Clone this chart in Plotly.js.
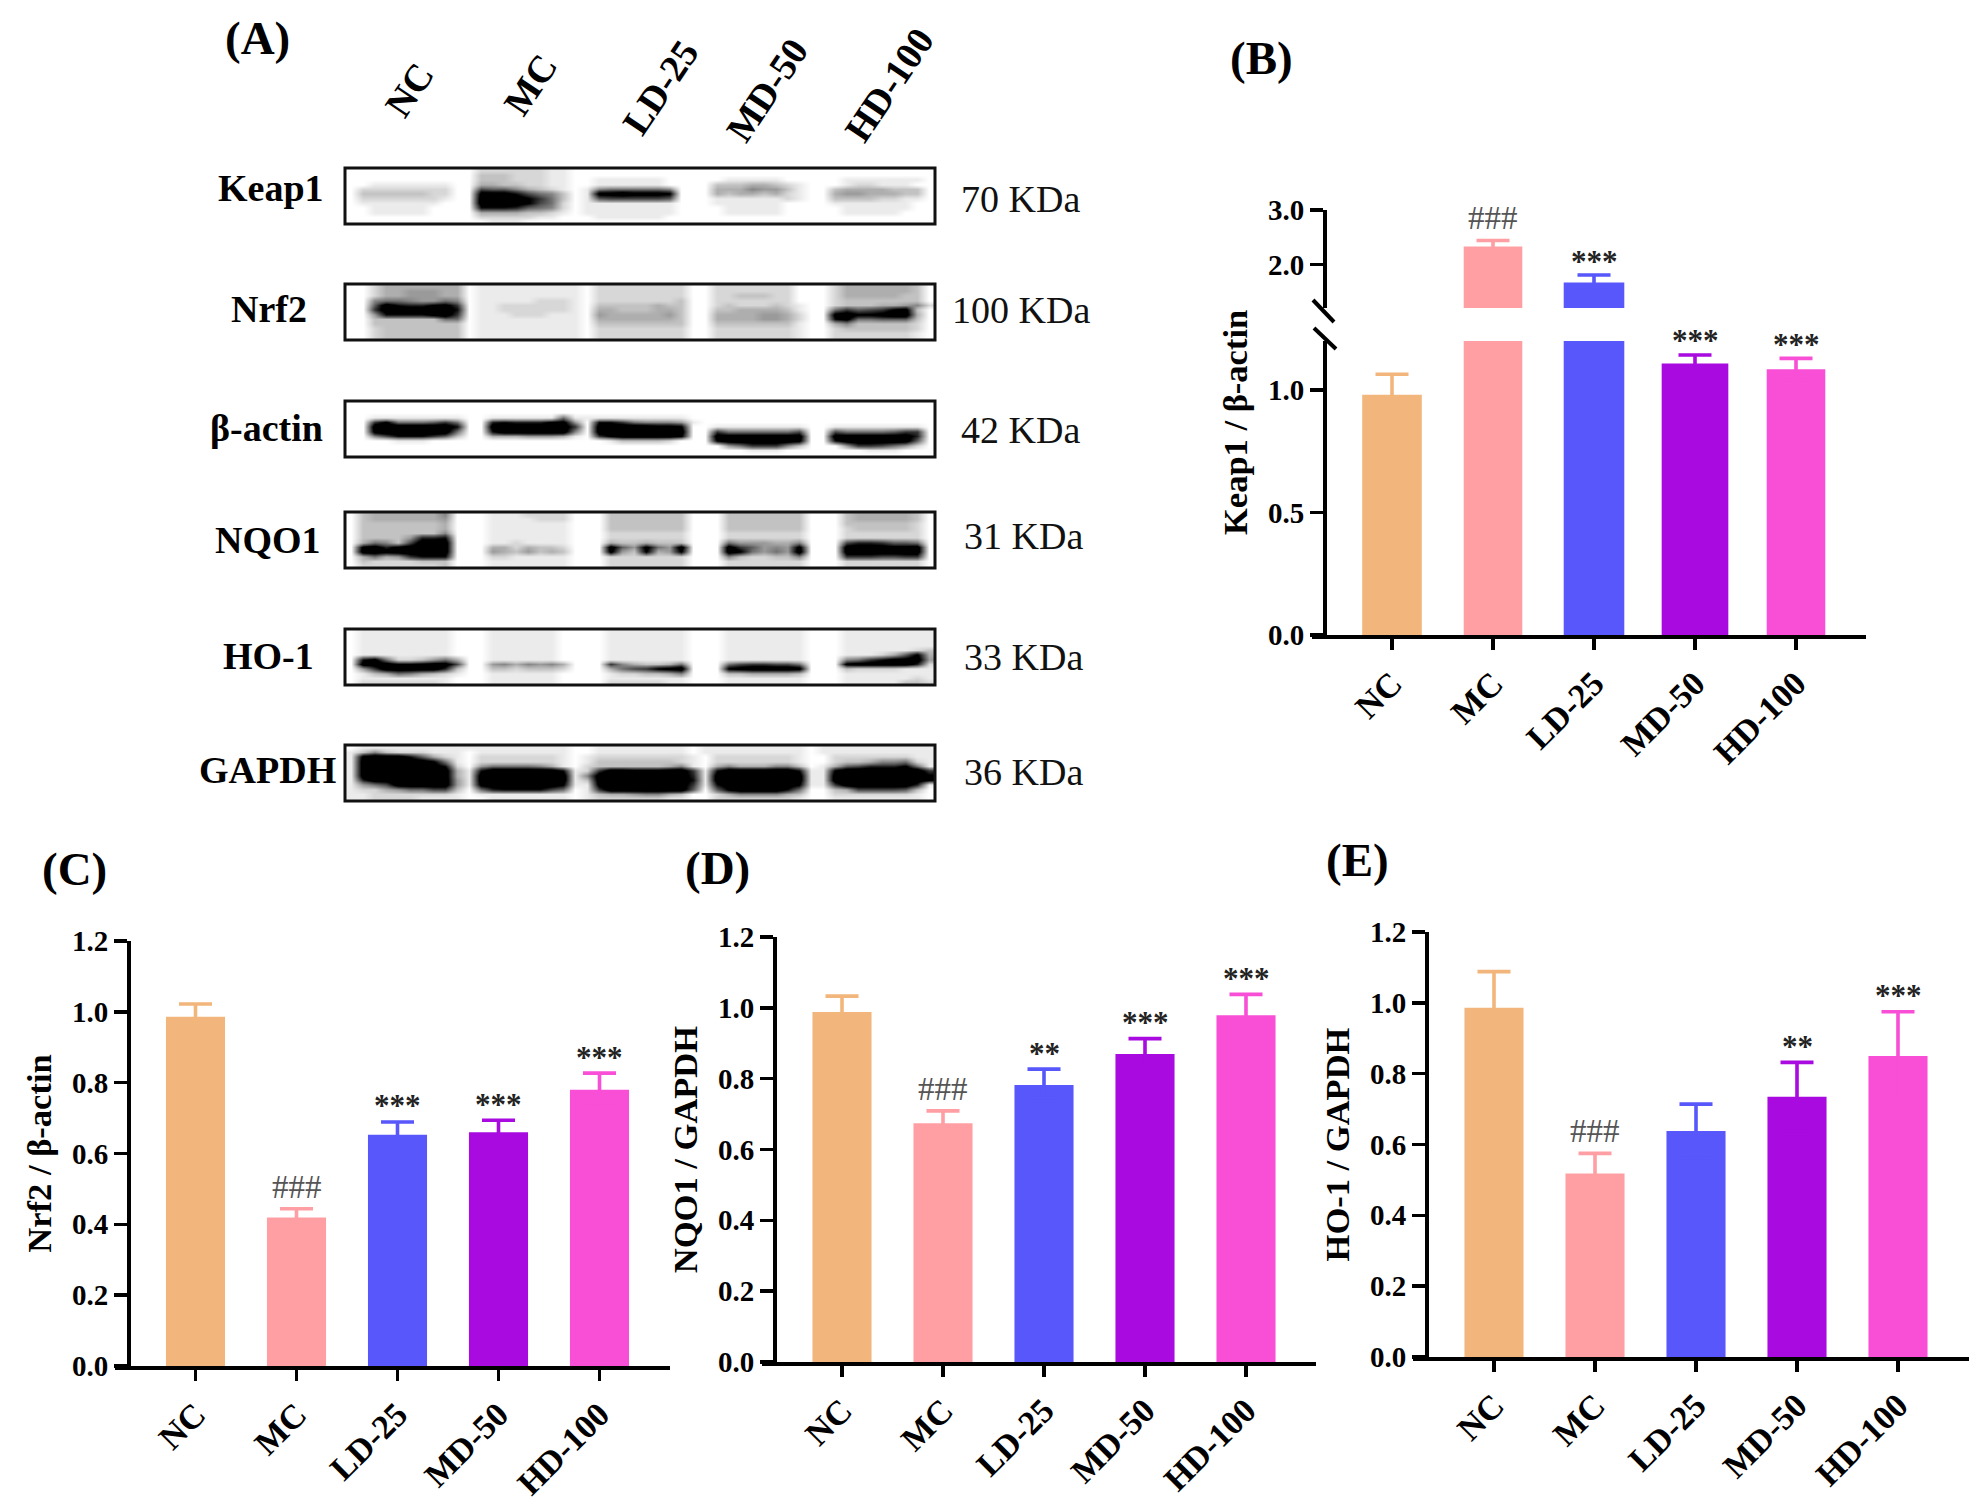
<!DOCTYPE html>
<html>
<head>
<meta charset="utf-8">
<script src="https://cdn.plot.ly/plotly-3.0.1.min.js"></script>
<style>
  html, body { margin: 0; padding: 0; background: #fff; }
</style>
</head>
<body>
<div id="myDiv" style="width:1985px;height:1510px;"></div>
<script>
var groups = ['NC', 'MC', 'LD-25', 'MD-50', 'HD-100']
var barColors = ['#F2B67C', '#FF9FA3', '#5757FB', '#A90AE0', '#F84FD6']

var keap1Values = [0.981, 2.33, 1.667, 1.108, 1.085]
var keap1Errors = [0.083, 0.11, 0.139, 0.035, 0.044]
var keap1Marks = ['', '###', '***', '***', '***']
var keap1Ticks = [0, 0.5, 1]
var keap1UpperTicks = [2, 3]

var nrf2Values = [0.986, 0.419, 0.653, 0.66, 0.78]
var nrf2Errors = [0.036, 0.025, 0.036, 0.034, 0.047]
var nrf2Marks = ['', '###', '***', '***', '***']

var nqo1Values = [0.988, 0.674, 0.782, 0.87, 0.979]
var nqo1Errors = [0.045, 0.035, 0.045, 0.043, 0.059]
var nqo1Marks = ['', '###', '**', '***', '***']

var ho1Values = [0.986, 0.518, 0.638, 0.735, 0.85]
var ho1Errors = [0.102, 0.057, 0.076, 0.097, 0.125]
var ho1Marks = ['', '###', '', '**', '***']

var yTicks = [0, 0.2, 0.4, 0.6, 0.8, 1, 1.2]

var blotNames = ['Keap1', 'Nrf2', 'β-actin', 'NQO1', 'HO-1', 'GAPDH']
var blotSizes = ['70 KDa', '100 KDa', '42 KDa', '31 KDa', '33 KDa', '36 KDa']

// blot grey levels, one hex digit per cell: 0 is black, f is white
var keap1Blot = [
  'ffffffffff fddddddeef ffffffffff ffffffffff ffffffffff',
  'ffffffffff fcccdddeef ffffffffff ffffffffff ffffffffff',
  'ffffffffff fcccdddeef feeeeeefff ffeeeeefff ffeeeeeeef',
  'ffeeeeeeef fbbccddeef feeeeeefff fcccbbcdef ffeddeeeff',
  'fddddddddf f6779bcdef e9888889ff fbbb9aacef fcbbbbcccf',
  'fccccccddf f1113689cf e1101112ff fbcbbcbdef fbaabbbccf',
  'fdddddddef f0000258cf e7666667ff feeeeeedef fccccddeef',
  'feeeeeeeff f0000268df eeeeeeeeff feeeeeefff feeeeeeeff',
  'ffeeeeefff f3334789df eeeeeeeeff ffeeeeefff ffeeeeeeff',
  'ffeeeeefff fbbbbccdef eeeeeeeeff ffeeeeefff ffeeeeefff',
  'ffffffffff fdddddeeff feeeeeefff ffffffffff ffffffffff',
  'ffffffffff ffeeefffff ffffffffff ffffffffff ffffffffff'
]
var nrf2Blot = [
  'ffdbbbbbbb feeeeeeeee fddddddddf fdddddddff fdbbbbbbcf',
  'ffdbbaaabb feeeeeeeee fddddddddf fdddddddff fdbbbbbbcf',
  'ffdbbaaabb feeeeeeeee fddddddddf fddcccddff fdbbbbbccf',
  'ff9889aa89 feeeeeddde fdddddddcf fdddddddff fdcccccccf',
  'ff70344215 feedddddde fcccccbccf fdcdddcdef fdcccbba9d',
  'ff50000003 feedddddde fbbcccbbcf fccbbbbcef f8576521cf',
  'ffa3333105 feeedddeee fabbbbbacf fbbbbaabdf f1022100bf',
  'ffcccccc88 feeeeeeeee fbbbbbbbcf fbbbbaabdf f3188777cf',
  'ffcccccccc feeeeeeeee fccccccccf fcccccccef fb9cccccdf',
  'ffdccccccc feeeeeeeee fddddddddf fdddddddef fdccccccdf',
  'ffdccccccc feeeeeeeee fddddddddf fdddddddef fdddddddef',
  'ffdccccccc feeeeeeeee fddddddddf fdddddddef fdddddddef'
]
var actinBlot = [
  'ffffffffff ffffffffff ffffffffff ffffffffff ffffffffff',
  'ffffffffff ffffffffff ffffffffff ffffffffff ffffffffff',
  'ffffffffff ffffffffff ffffffffff ffffffffff ffffffffff',
  'ffeeeeeeee ffeeeeee8e eeeeeeeeef ffffffffff ffffffffff',
  'ff52888758 ff4344421a f3358999ae ffffffffff ffffffffff',
  'ff00000003 ff00000005 f00000112f feeeeeeeef feeeeeeeef',
  'ff10000008 ff30000009 f00000000f f58888886f f68888755f',
  'ff9633357c ffbbbaaabe f52000002f f00000000f f00000004f',
  'ffffeeefff ffffffffff ffeccccdff f20000001f f30000007f',
  'ffffffffff ffffffffff ffffffffff ffa85559cf ffa5568adf',
  'ffffffffff ffffffffff ffffffffff ffffeeefff ffffeeefff',
  'ffffffffff ffffffffff ffffffffff ffffffffff ffffffffff'
]
var nqo1Blot = [
  'fcbbbbbb9f ffeeeddddf ffcccccccf ffcccccccf ffcbbbbbcf',
  'fcbbbbbbaf ffeeeedddf ffcccccccf ffcccccccf ffcbbbbbcf',
  'fcccccccbf ffeeeeeeef ffcccccccf ffcccccccf ffccccccdf',
  'fcccccccbf ffeeeeeeef ffcccccccf ffcccccccf ffdcccccdf',
  'fccccccc9f ffeeeeeeef ffdddddddf ffdddddddf ffdddddddf',
  'fcccca443f ffeeeeeeef ffdddddddf ffdddddddf ffdddddddf',
  'fb89c6000f ffeedeeeef ffbccbcccf ff8aaabb9f ff6445778f',
  'f10410000f ffbbdbccdf ff07a18a0f ff057a9a1f ff0000110f',
  'f00100000f ffabcacbcf ff1ac2ba2f ff028a8a0f ff0000000f',
  'fb8ba5333f ffddeeeeef ffdddddddf ff9cddcc9f ff5556655f',
  'fcddddcccf ffeeeeeeef ffdddddddf ffdddddddf ffdddddddf',
  'fdddddddcf ffeeeeeeef ffdddddddf ffdddddddf ffdddddddf'
]
var ho1Blot = [
  'feeeeeeeef ffeeeeeeff ffeeeeeeef ffeeeeeeef ffeeeeeeee',
  'feeeeeeeef ffeeeeeeff ffeeeeeeef ffeeeeeeef ffeeeeeeee',
  'feeeeeeeef ffeeeeeeff ffeeeeeeef ffeeeeeeef ffeeeeeeee',
  'feeeeeeeef ffeeeeeeff ffeeeeeeef ffeeeeeeef ffeeeeeeee',
  'feeeeeeeef ffeeeeeeff ffeeeeeeef ffeeeeeeef ffeeeeeedc',
  'feeeeeeeef ffeeeeeeff ffeeeeeeef ffeeeeeeef ffeeedb72b',
  'f318ddca8b ffeeeeeeff ffeeeeeeef ffeeeeeeef ff9853110a',
  'f000221006 ffa9b9a9bf ff59bccb8f ff8655668f ff1000004d',
  'fa5000004c ffccdcccdf ffb865210f ff2100001f ffcddddeee',
  'fecb89bcde ffeeeeeeff ffeddccb9f ffccbbbbcf ffeeeeeeee',
  'feeeeeeeef ffeeeeeeff ffeeeeeeef ffeeeeeeef ffeeeeeede',
  'fdddddddef ffeeeeeeff ffdddddeef ffeeeeeeef ffeeeeeccd'
]
var gapdhBlot = [
  'feeeeeeeee eeeeeeeeef feeeeeeeef eeeeeeeeef eeeeeeeeee',
  'ec9cdddeee feeeeeeeef feeeeeeeef eeeeeeeeef eeeeeeeeee',
  'e100037bde fdddddddef edddddddde fdddddddef fdddddddee',
  'e00000028e fdddddddef ecccccccde fdddddddef fdccb998de',
  'e00000003d fa88889bef dccccccb9e fb9bbb99cf eb7644428e',
  'e00000000b e30000003e d500111005 e30000003e e200000005',
  'e00000000b e00000000e 9000000004 e00000000e e000000002',
  'e40000000a e00000000e c000000003 e00000000e e000000002',
  'ea8600000a e10000002e e100000005 e30000002e e50000004e',
  'eddba8866c f84333368f e500000007 f72000038f fcb66667cf',
  'eeddddddde feeeeeeeef ecbba99bcf fdb9999bcf fdddddddef',
  'eeddddeeee ffeeeeeeef eddddddeef fdddddddef feeeeeeeef'
]
var blots = [keap1Blot, nrf2Blot, actinBlot, nqo1Blot, ho1Blot, gapdhBlot]

var W = 1985
var H = 1510
var serif = 'Liberation Serif'
var black = '#000'

function xFrac(px) { return px / W }
function yFrac(px) { return 1 - px / H }

/* category range so that the first bar centre lands on firstBar and the axis
 * line covers left..right, at barStep pixels per category */
function catRange(left, right, firstBar, barStep) {
  return [(left - firstBar) / barStep, (right - firstBar) / barStep]
}

function addBars(traces, values, errors, xName, yName, widths) {
  for (var i = 0; i < groups.length; i++) {
    traces.push({
      type: 'bar',
      x: [groups[i]],
      y: [values[i]],
      width: widths ? widths[i] : 0.585,
      xaxis: xName,
      yaxis: yName,
      marker: { color: barColors[i], line: { width: 0 } },
      // lower half of the whisker has the bar colour so it does not show
      error_y: {
        type: 'data', symmetric: true, array: [errors[i]],
        color: barColors[i], thickness: 3.6, width: 16.5
      },
      hoverinfo: 'skip',
      showlegend: false
    })
  }
}

function xAxis(panel) {
  return {
    domain: [xFrac(panel.left), xFrac(panel.right)],
    range: catRange(panel.left, panel.right, panel.firstBar, 101),
    type: 'category',
    categoryorder: 'array',
    categoryarray: groups,
    anchor: panel.yName,
    showline: true, linecolor: black, linewidth: 4,
    ticks: 'outside', ticklen: 11, tickwidth: 3.6, tickcolor: black,
    tickangle: -45,
    tickfont: { family: serif, size: 34, color: black, weight: 700 },
    showgrid: false, zeroline: false, fixedrange: true
  }
}

function yAxis(panel, top, bottom, range, ticks) {
  return {
    domain: [yFrac(bottom), yFrac(top)],
    range: range,
    tickmode: 'array',
    tickvals: ticks,
    ticktext: ticks.map(function (t) { return t.toFixed(1) }),
    anchor: 'free',
    position: xFrac(panel.axisX),
    showline: true, linecolor: black, linewidth: 4,
    ticks: 'outside', ticklen: 13, tickwidth: 3.6, tickcolor: black,
    tickfont: { family: serif, size: 29, color: black, weight: 700 },
    showgrid: false, zeroline: false, fixedrange: true
  }
}

function addMarks(annotations, marks, values, errors, xName, yNames, starShift) {
  for (var i = 0; i < groups.length; i++) {
    if (!marks[i]) continue
    var isHash = marks[i].charAt(0) == '#'
    annotations.push({
      text: marks[i],
      x: i,
      y: values[i] + errors[i],
      xref: xName,
      yref: yNames[i],
      showarrow: false,
      yanchor: 'middle',
      yshift: isHash ? 22 : starShift,
      font: { family: serif, size: isHash ? 33 : 31, color: isHash ? '#555' : '#222', weight: isHash ? 400 : 700 }
    })
  }
}

var traces = []
var annotations = []
var shapes = []

// panel A, blots live on a page sized axis pair
var blotTops = [168, 284, 401, 512, 629, 745]
var nameX = [271, 269, 266, 268, 268, 267]
var nameY = [188, 309, 428, 540, 656, 770]
var sizeX = [1020, 1021, 1020, 1023, 1023, 1023]
var sizeY = [199, 310, 430, 536, 657, 772]
var blotLeft = 345
var blotWidth = 590
var blotHeight = 56

blots.forEach(function (rows, i) {
  var z = rows.map(function (row) {
    return row.replace(/ /g, '').split('').map(function (c) { return parseInt(c, 16) })
  })
  traces.push({
    type: 'heatmap', z: z,
    x0: blotLeft + blotWidth / z[0].length / 2, dx: blotWidth / z[0].length,
    y0: blotTops[i] + blotHeight / z.length / 2, dy: blotHeight / z.length,
    xaxis: 'x5', yaxis: 'y6',
    zmin: 0, zmax: 15, zsmooth: 'best',
    colorscale: [[0, '#000'], [0.16, '#000'], [1, '#fff']],
    showscale: false, hoverinfo: 'skip'
  })
  shapes.push({
    type: 'rect', xref: 'x5', yref: 'y6',
    x0: blotLeft, x1: blotLeft + blotWidth, y0: blotTops[i], y1: blotTops[i] + blotHeight,
    line: { color: '#111', width: 3 }
  })
  annotations.push({
    text: blotNames[i], x: nameX[i], y: nameY[i], xref: 'x5', yref: 'y6', showarrow: false,
    font: { family: serif, size: 38, color: black, weight: 700 }
  })
  annotations.push({
    text: blotSizes[i], x: sizeX[i], y: sizeY[i], xref: 'x5', yref: 'y6', showarrow: false,
    font: { family: serif, size: 38, color: '#111' }
  })
})

var laneX = [409, 530, 660, 767, 889]
var laneY = [90, 85, 88, 90, 85]
groups.forEach(function (g, i) {
  annotations.push({
    text: g, x: laneX[i], y: laneY[i], xref: 'x5', yref: 'y6', showarrow: false,
    textangle: -56,
    font: { family: serif, size: 38, color: black, weight: 700 }
  })
})

var panelNames = ['(A)', '(B)', '(C)', '(D)', '(E)']
var panelX = [257, 1261, 74, 717, 1357]
var panelY = [38, 58, 869, 868, 860]
panelNames.forEach(function (p, i) {
  annotations.push({
    text: p, x: panelX[i], y: panelY[i], xref: 'x5', yref: 'y6', showarrow: false,
    font: { family: serif, size: 47, color: black, weight: 700 }
  })
})

// panel B has a broken axis, every bar goes in both halves and gets clipped
var panelB = { left: 1312, right: 1866, firstBar: 1392, axisX: 1325, yName: 'y' }
var panelC = { left: 115, right: 670, firstBar: 195.5, axisX: 129, yName: 'y3' }
var panelD = { left: 762, right: 1316, firstBar: 842, axisX: 775, yName: 'y4' }
var panelE = { left: 1413, right: 1969, firstBar: 1494, axisX: 1427, yName: 'y5' }

var keap1Widths = [0.59, 0.58, 0.6, 0.66, 0.58]
addBars(traces, keap1Values, keap1Errors, 'x', 'y', keap1Widths)
addBars(traces, keap1Values, keap1Errors, 'x', 'y2', keap1Widths)
addBars(traces, nrf2Values, nrf2Errors, 'x2', 'y3')
addBars(traces, nqo1Values, nqo1Errors, 'x3', 'y4')
addBars(traces, ho1Values, ho1Errors, 'x4', 'y5')

addMarks(annotations, keap1Marks, keap1Values, keap1Errors, 'x', ['y', 'y2', 'y2', 'y', 'y'], 14)
addMarks(annotations, nrf2Marks, nrf2Values, nrf2Errors, 'x2', ['y3', 'y3', 'y3', 'y3', 'y3'], 16)
addMarks(annotations, nqo1Marks, nqo1Values, nqo1Errors, 'x3', ['y4', 'y4', 'y4', 'y4', 'y4'], 16)
addMarks(annotations, ho1Marks, ho1Values, ho1Errors, 'x4', ['y5', 'y5', 'y5', 'y5', 'y5'], 16)

annotations.push({
  text: 'Keap1 / β-actin', x: 1235, y: 423, xref: 'x5', yref: 'y6', showarrow: false,
  textangle: -90,
  font: { family: serif, size: 34.5, color: black, weight: 700 }
})

// axis break marks
shapes.push({ type: 'line', xref: 'x5', yref: 'y6', x0: 1313, y0: 300, x1: 1334, y1: 322, line: { color: black, width: 4 } })
shapes.push({ type: 'line', xref: 'x5', yref: 'y6', x0: 1314, y0: 328, x1: 1336, y1: 349, line: { color: black, width: 4 } })

function titled(axis, text, standoff) {
  axis.title = { text: text, standoff: standoff, font: { family: serif, size: 34.5, color: black, weight: 700 } }
  return axis
}

var layout = {
  width: W,
  height: H,
  margin: { l: 0, r: 0, t: 0, b: 0, pad: 0 },
  paper_bgcolor: '#fff',
  plot_bgcolor: 'rgba(0,0,0,0)',
  barmode: 'overlay',
  showlegend: false,
  annotations: annotations,
  shapes: shapes,
  xaxis: xAxis(panelB),
  xaxis2: xAxis(panelC),
  xaxis3: xAxis(panelD),
  xaxis4: xAxis(panelE),
  xaxis5: { domain: [0, 1], range: [0, W], anchor: 'y6', visible: false, fixedrange: true },
  yaxis: yAxis(panelB, 341, 635, [0, 1.2], keap1Ticks),
  yaxis2: yAxis(panelB, 210, 308, [1.2, 3], keap1UpperTicks),
  yaxis3: titled(yAxis(panelC, 941, 1366, [0, 1.2], yTicks), 'Nrf2 / β-actin', 9),
  yaxis4: titled(yAxis(panelD, 937, 1362, [0, 1.2], yTicks), 'NQO1 / GAPDH', 9),
  yaxis5: titled(yAxis(panelE, 932, 1357, [0, 1.2], yTicks), 'HO-1 / GAPDH', 9),
  yaxis6: { domain: [0, 1], range: [H, 0], anchor: 'x5', visible: false, fixedrange: true }
}

Plotly.newPlot('myDiv', traces, layout, { displayModeBar: false, staticPlot: true })
</script>
</body>
</html>
